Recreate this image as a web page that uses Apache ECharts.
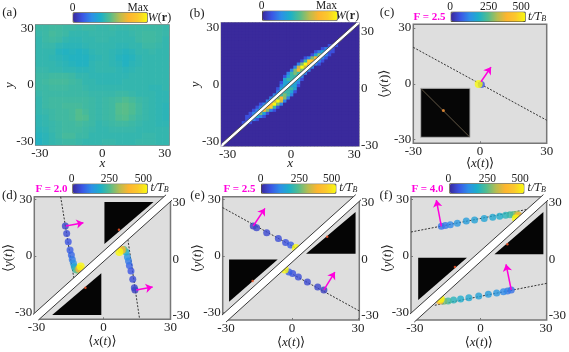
<!DOCTYPE html>
<html><head><meta charset="utf-8">
<style>html,body{margin:0;padding:0;background:#fff}#c{width:569px;height:352px}</style>
<script src="https://cdn.jsdelivr.net/npm/echarts@6/dist/echarts.min.js"></script>
</head><body><div id="c"></div>
<script>
const parula=['#3a2a9c','#3b55e5','#2d8fe8','#1cb0c8','#55bd8c','#b8bd50','#fdb52f','#fbc92c','#f9f90f'];
const tickValues=[-30,0,30];
// (a) W(r), rows from top to bottom, percent of Max
const heatA=[
[47,47,48,48,47,47,46,47,47,46,46,47,46,46,47,47,47,47,47,46],
[46,47,49,48,47,45,45,45,46,46,46,46,45,45,46,47,48,48,47,46],
[45,47,48,47,45,44,44,45,45,46,46,45,45,45,45,47,48,48,47,45],
[45,46,46,44,43,43,43,44,45,45,45,45,44,44,45,45,47,47,46,45],
[45,45,45,42,41,42,41,42,44,45,45,44,43,42,43,45,45,46,45,45],
[45,45,44,43,42,41,41,41,43,44,45,44,42,41,42,44,45,45,45,45],
[45,45,45,44,43,42,41,41,44,45,45,44,43,41,43,44,45,45,45,45],
[46,46,45,45,44,44,43,43,44,45,45,45,44,43,44,45,45,45,45,45],
[47,47,48,48,48,47,45,45,44,44,44,44,44,44,45,45,45,45,45,45],
[47,48,49,49,49,48,47,45,45,44,44,44,44,45,45,45,45,45,45,45],
[47,47,48,48,48,47,47,46,45,45,45,45,45,45,45,45,45,44,44,45],
[46,47,47,47,47,47,47,47,46,46,46,46,47,47,46,45,45,45,44,44],
[45,47,48,48,48,48,48,48,47,46,47,48,49,51,49,47,46,45,44,44],
[45,47,48,48,49,49,49,48,47,46,47,48,52,53,51,48,46,45,44,43],
[45,46,47,48,48,49,52,49,47,46,47,48,52,53,51,48,46,45,44,43],
[44,45,47,48,48,49,52,51,47,46,47,48,51,52,49,47,46,45,44,43],
[44,45,46,47,48,48,49,48,47,45,46,47,48,48,47,46,45,45,44,44],
[43,44,46,47,48,48,48,47,46,45,45,46,46,46,46,45,45,45,45,45],
[42,43,45,47,49,49,47,47,45,45,45,45,45,45,45,45,46,46,45,45],
[41,43,45,46,47,47,46,45,45,45,46,46,45,45,45,46,46,46,45,45]];
// (b) W(r) on a 40x40 grid: [row from top, first column, values 0-9]; other cells are 0
const heatBCells=[
[7,31,[1,1,1]],[8,29,[1,2,2,1]],[9,27,[1,2,3,2,1,1]],[10,26,[1,3,5,3,2,1]],
[11,24,[1,2,5,7,4,2,1]],[12,23,[1,4,8,7,4,2,1]],[13,22,[2,5,9,7,4,2,1]],[14,21,[2,6,9,6,3,2]],
[15,20,[2,5,7,5,3,2]],[16,19,[2,4,5,4,3,2]],[17,18,[1,3,4,4,3,2]],[18,18,[3,4,4,3,3,1]],
[19,17,[1,3,3,3,3,2]],[20,17,[2,3,3,3,3,1]],[21,16,[1,3,3,4,4,3]],[22,16,[2,3,4,4,3,1]],
[23,15,[2,3,4,5,4,2]],[24,14,[2,3,5,7,5,2]],[25,13,[2,3,6,9,6,2]],[26,11,[1,2,4,7,9,5,2]],
[27,10,[1,2,4,7,8,4,1]],[28,9,[1,2,4,7,5,2,1]],[29,8,[1,2,3,5,3,1]],[30,7,[1,1,2,3,2,1]],
[31,7,[1,2,2,1]],[32,6,[1,1,1]]];
// trajectories [x,y,t]
const trackC=[[.6,-.4,60],[-0.6,-0.1,500]];
const trackD1=[[-17.1,15.9,40],[-16.5,12,50],[-15.8,7.6,60],[-15,3.2,70],[-14.4,.5,80],[-14,-1.8,100],[-13.5,-3.9,130],[-13.1,-5.7,170],[-12.5,-7.1,210],[-11.7,-7.6,270],[-10.8,-6.7,380],[-10.2,-5.5,500]];
const trackD2=[[14.1,-18.1,30],[13.8,-16.8,40],[13.1,-12.4,50],[12.3,-8,60],[11.6,-5,75],[11.2,-2.7,100],[10.7,-.5,130],[10.1,2.1,180],[9.2,3.5,260],[8.2,3.2,380],[7.1,2.1,500]];
const trackE1=[[-17.6,15.9,30],[-16.1,15,40],[-11.5,12.3,45],[-6.2,9.2,50],[-2.9,7.1,55],[-.6,5.8,70],[1.8,4.2,500]];
const trackE2=[[14.5,-18,30],[11.7,-16.4,40],[7,-13.8,45],[2.9,-11.1,50],[.3,-9.3,55],[-1.4,-8.5,70],[-3.3,-7.2,500]];
const trackF1=[[-17.9,15.7,90],[-16.1,16.1,100],[-13.8,16.6,120],[-10.6,17.3,140],[-6.5,18.5,150],[-2.7,19,160],[1.7,19.9,165],[5.6,20.5,170],[8.8,21,180],[11.5,21.6,200],[13.5,21.9,220],[15.2,22,250],[16.8,21.9,300],[17.4,21.2,380],[16.2,19.8,500]];
const trackF2=[[14.1,-18,90],[12.4,-18.5,100],[10.5,-18.9,120],[7.4,-19.6,140],[3.6,-20.3,150],[-.8,-21.2,160],[-5.3,-22.1,170],[-9.1,-22.8,180],[-12.3,-23.3,200],[-14.8,-23.8,230],[-16.8,-24,270],[-18.6,-23.6,380],[-18.2,-22.6,500]];
// dotted guide lines, magenta arrows, black triangles, orange dots, white band, edges
const guidesC=[[[-30,19.6],[30,-19.6]]];
const guidesD=[[[-19.2,31.5],[-13.2,-12.4]],[[10.9,8.8],[16.1,-33]]];
const guidesE=[[[-31.5,25.6],[1.8,4.2]],[[30.6,-29.1],[-4.7,-6.5]]];
const guidesF=[[[-31.8,12.7],[21.5,24.7]],[[30.3,-14.5],[-20.9,-26.1]]];
const arrowsC=[[[.45,1.1],[4.95,9]]];
const arrowsD=[[[-16.9,15.9],[-9,17.7]],[[14.6,-18],[22,-16.5]]];
const arrowsE=[[[-17.6,15.9],[-12.3,25.2]],[[14.5,-18],[19.5,-8.5]]];
const arrowsF=[[[-17.9,15.7],[-20.2,29.6]],[[14.1,-18],[11.7,-4.4]]];
const trianglesD=[[[.4,28.7],[22.4,28.7],[.4,6.4]],[[-23,-31.3],[-1,-31.3],[-1,-9.2]]];
const trianglesE=[[[28.9,23.3],[28.9,1.2],[6.4,1.2]],[[-28.6,-1.8],[-6.5,-1.8],[-28.6,-24.3]]];
const trianglesF=[[[28.8,23.3],[28.8,.9],[6.4,.9]],[[-28.5,-.9],[-6.2,-.9],[-28.5,-23.3]]];
const dotsD=[[6.9,14],[-8.1,-16.8]];
const dotsE=[[16,10.2],[-17.9,-13.2]];
const dotsF=[[12.3,6.2],[-11.7,-5.8]];
const bandB=[[-32.6,-31],[31,32.6],[32.6,33],[32.3,31.7],[-32,-32.6],[-33.3,-33]];
const bandD=[[-32,-31.5],[28,32.5],[31,32.5],[31,30],[-29.2,-34],[-32,-34]];
const bandE=[[-32.5,-32],[29,32.5],[31.6,32.5],[31.6,30],[-30,-35],[-32.5,-35]];
const bandF=[[-33,-31.5],[28.8,32.5],[31.3,32.5],[31.3,30],[-30.3,-35],[-33,-35]];
const insetC={line:[[-29,29],[29,-29]],dot:[[-2.4,2.7]]};

const axisCol='#777',txt='#222',serif='"Liberation Serif","DejaVu Serif",serif',magenta='#ff00dd';
const grids=[],xAxes=[],yAxes=[],series=[],visualMaps=[],graphics=[];
const mathRich={i:{fontStyle:'italic',fontFamily:serif,fontSize:13,color:txt},n:{fontFamily:serif,fontSize:13,color:txt}};

function panel(p){
 const g=grids.length;
 grids.push({left:p.l,top:p.t,width:p.w,height:p.h,show:true,containLabel:false,backgroundColor:p.bg||'#dedede',borderColor:p.frame||axisCol,borderWidth:1.5});
 const xi=xAxes.length,yi=yAxes.length;
 const ax=(o)=>Object.assign({type:'value',gridIndex:g,splitLine:{show:false},
  axisLine:{show:false,onZero:false},
  axisTick:{show:true,inside:true,length:2,lineStyle:{color:axisCol},customValues:tickValues},
  axisLabel:{customValues:tickValues,fontFamily:serif,fontSize:13,color:txt,margin:2},
  nameLocation:'middle',nameMoveOverlap:false,nameTextStyle:{fontFamily:serif,fontSize:13,color:txt,rich:mathRich}},o);
 xAxes.push(ax({position:'bottom',min:p.xr[0],max:p.xr[1],name:p.xn,nameGap:p.xg}));
 yAxes.push(ax({position:'left',min:p.yr[0],max:p.yr[1],name:p.yn,nameGap:p.yg,nameRotate:90}));
 if(p.rightShift!==undefined){
  yAxes.push(ax({position:'right',min:p.yr[0]+p.rightShift,max:p.yr[1]+p.rightShift,axisTick:{show:false},name:''}));
 }
 return {g,xi,yi};
}
function heat(ids,cols,rows,values,vmax,bar){
 const cx=xAxes.length,cy=yAxes.length;
 xAxes.push({type:'category',gridIndex:ids.g,show:false,data:Array.from({length:cols},(_,i)=>i)});
 yAxes.push({type:'category',gridIndex:ids.g,show:false,data:Array.from({length:rows},(_,i)=>i)});
 series.push({type:'heatmap',xAxisIndex:cx,yAxisIndex:cy,data:values,animation:false,itemStyle:{borderWidth:0},emphasis:{disabled:true},progressive:0});
 colorbar(series.length-1,vmax,bar,undefined);
}
function colorbar(idx,vmax,bar,dim){
 const vm={type:'continuous',seriesIndex:idx,min:0,max:vmax,orient:'horizontal',left:bar[0],top:bar[1],itemWidth:bar[3],itemHeight:bar[2],
  padding:0,borderColor:'#55503a',borderWidth:1,text:null,calculable:false,hoverLink:false,inRange:{color:parula},outOfRange:{color:parula}};
 if(dim!==undefined)vm.dimension=dim;
 visualMaps.push(vm);
}
function polygon(ids,pts,fill,z){
 series.push({type:'custom',xAxisIndex:ids.xi,yAxisIndex:ids.yi,data:pts,z:z,silent:true,animation:false,clip:false,
  encode:{x:0,y:1},
  renderItem:(params,api)=>params.dataIndex!==0?null:({type:'polygon',shape:{points:pts.map(q=>api.coord(q))},style:{fill:fill,stroke:null}})});
}
function edge(ids,a,b,col,z,w){
 series.push({type:'line',xAxisIndex:ids.xi,yAxisIndex:ids.yi,data:[a,b],symbol:'none',silent:true,animation:false,z:z,clip:false,lineStyle:{color:col,width:w||1}});
}
function trajectory(ids,guides,arrows,tracks,bar){
 guides.forEach(gl=>series.push({type:'line',xAxisIndex:ids.xi,yAxisIndex:ids.yi,data:gl,symbol:'none',silent:true,animation:false,z:3,lineStyle:{color:'#333',width:1,type:[2,1.5]}}));
 const first=series.length;
 tracks.forEach(t=>series.push({type:'scatter',xAxisIndex:ids.xi,yAxisIndex:ids.yi,data:t,symbol:'circle',symbolSize:(v)=>v[2]>=300?8:7,silent:true,animation:false,z:4,encode:{x:0,y:1}}));
 colorbar(tracks.map((_,i)=>first+i),500,bar,2);
 series.push({type:'lines',coordinateSystem:'cartesian2d',xAxisIndex:ids.xi,yAxisIndex:ids.yi,silent:true,animation:false,z:5,
  symbol:['none','arrow'],symbolSize:7,lineStyle:{color:magenta,width:1.5,opacity:1},
  data:arrows.map(a=>({coords:a}))});
}
function bandAndInsets(ids,band,triangles,dots,edgeW){
 triangles.forEach(t=>polygon(ids,t,'#050505',2));
 series.push({type:'scatter',xAxisIndex:ids.xi,yAxisIndex:ids.yi,data:dots,symbol:'circle',symbolSize:2.5,silent:true,animation:false,z:2.5,itemStyle:{color:'#ff5a2a'}});
 polygon(ids,band,'#ffffff',6);
 edge(ids,band[0],band[1],'#3a3a3a',7,edgeW);
 edge(ids,band[3],band[4],'#3a3a3a',7,edgeW);
}
function text(x,y,s,o){
 graphics.push({type:'text',x:x,y:y,z:50,silent:true,style:Object.assign({text:s,fill:txt,font:'12px '+serif,align:'center',verticalAlign:'middle'},o||{})});
}
const small={font:'11.5px '+serif};
const wRich={rich:{i:{fontStyle:'italic',fontFamily:serif,fontSize:12,fill:txt,fontWeight:'normal'},n:{fontFamily:serif,fontSize:12,fill:txt},b:{fontFamily:serif,fontSize:12,fill:txt,fontWeight:'bold'}}};
const tRich={rich:{i:{fontStyle:'italic',fontFamily:serif,fontSize:12,fill:txt},s:{fontStyle:'italic',fontFamily:serif,fontSize:8,fill:txt,verticalAlign:'bottom',padding:[4,0,0,0]}}};
const labelFont={font:'13px '+serif};

const AVX='{n|⟨}{i|x}{n|(}{i|t}{n|)⟩}',AVY='{n|⟨}{i|y}{n|(}{i|t}{n|)⟩}';

// (a)
let ids=panel({l:35.7,t:25,w:133.3,h:120,xr:[-32,32],yr:[-32,32],xn:'x',yn:'y',xg:12,yg:20,frame:'#6e6e6e'});
xAxes[ids.xi].nameTextStyle.fontStyle='italic';yAxes[ids.yi].nameTextStyle.fontStyle='italic';
{const v=[];heatA.forEach((r,ri)=>r.forEach((c,ci)=>v.push([ci,heatA.length-1-ri,c])));
 heat(ids,20,20,v,105,[72.7,12.3,74,9.4]);}
text(9.5,12.7,'(a)',labelFont);text(72.5,7.5,'0',small);text(138,7.5,'Max',small);
text(159.5,17.5,'{i|W}{n|(}{b|r}{n|)}',wRich);

// (b)
ids=panel({l:221.3,t:22.7,w:137.7,h:123.3,xr:[-33,32.3],yr:[-32.6,32.6],xn:'x',yn:'y',xg:11,yg:19,rightShift:2.2,bg:'#3a2a9c',frame:'#a0a0a0'});
xAxes[ids.xi].nameTextStyle.fontStyle='italic';yAxes[ids.yi].nameTextStyle.fontStyle='italic';
{const m=[];for(let r=0;r<40;r++){m.push(new Array(40).fill(0));}
 heatBCells.forEach(([r,c0,vals])=>vals.forEach((val,k)=>{m[r][c0+k]=val;}));
 const v=[];m.forEach((row,r)=>row.forEach((c,col)=>v.push([col,39-r,c])));
 heat(ids,40,40,v,9,[262,10.7,74.7,9]);}
bandAndInsets(ids,bandB,[],[],.8);
text(197,14,'(b)',labelFont);text(261.5,5.5,'0',small);text(326.5,6,'Max',small);
text(347.5,15.5,'{i|W}{n|(}{b|r}{n|)}',wRich);

// (c)
ids=panel({l:413.3,t:24.3,w:133.4,h:119,xr:[-30,30],yr:[-32,32],xn:AVX,yn:AVY,xg:14,yg:22});
trajectory(ids,guidesC,arrowsC,[trackC],[450.7,11.7,74,9.3]);
{const g=grids.length;
 grids.push({left:420.7,top:88.3,width:49.3,height:49,show:true,backgroundColor:'#060606',borderColor:'#b5b5b5',borderWidth:1,z:8});
 const xi=xAxes.length,yi=yAxes.length;
 xAxes.push({type:'value',gridIndex:g,min:-30,max:30,show:false,splitLine:{show:false}});
 yAxes.push({type:'value',gridIndex:g,min:-30,max:30,show:false,splitLine:{show:false}});
 series.push({type:'line',xAxisIndex:xi,yAxisIndex:yi,data:insetC.line,symbol:'none',silent:true,animation:false,z:9,lineStyle:{color:'#7a6c56',width:.8}});
 series.push({type:'scatter',xAxisIndex:xi,yAxisIndex:yi,data:insetC.dot,symbolSize:3,silent:true,animation:false,z:9,itemStyle:{color:'#ff9a3a'}});
}
text(387,12.5,'(c)',labelFont);
text(429.5,17.5,'F = 2.5',{font:'bold 11px '+serif,fill:magenta});
text(450,6.5,'0',small);text(488.5,6.5,'250',small);text(521,6.5,'500',small);
text(537,17,'{i|t/T}{s|B}',tRich);

// (d)
ids=panel({l:34.3,t:196.7,w:136.2,h:122.6,xr:[-31,30],yr:[-33.6,31.5],xn:AVX,yn:AVY,xg:16,yg:19,rightShift:1.8});
bandAndInsets(ids,bandD,trianglesD,dotsD);
trajectory(ids,guidesD,arrowsD,[trackD1,trackD2],[72.3,183.7,74.4,9]);
text(9.5,195.5,'(d)',labelFont);
text(51.5,189.5,'F = 2.0',{font:'bold 11px '+serif,fill:magenta});
text(71.7,178.5,'0',small);text(109.3,178.5,'250',small);text(143.3,178.5,'500',small);
text(159.5,187.5,'{i|t/T}{s|B}',tRich);

// (e)
ids=panel({l:222.7,t:196.7,w:136.6,h:123.3,xr:[-31.5,30.6],yr:[-33.9,31.4],xn:AVX,yn:AVY,xg:16,yg:19,rightShift:1.8});
bandAndInsets(ids,bandE,trianglesE,dotsE);
trajectory(ids,guidesE,arrowsE,[trackE1,trackE2],[261,183.7,74.3,9]);
text(197.5,196,'(e)',labelFont);
text(239.5,189.5,'F = 2.5',{font:'bold 11px '+serif,fill:magenta});
text(260.7,178.5,'0',small);text(299.3,178.5,'250',small);text(331.7,178.5,'500',small);
text(348.3,187.5,'{i|t/T}{s|B}',tRich);

// (f)
ids=panel({l:411,t:196.7,w:136.7,h:123.3,xr:[-31.8,30.3],yr:[-33.9,31.4],xn:AVX,yn:AVY,xg:16,yg:17,rightShift:1.8});
bandAndInsets(ids,bandF,trianglesF,dotsF);
trajectory(ids,guidesF,arrowsF,[trackF1,trackF2],[449.3,183.3,74,9.4]);
text(386,196,'(f)',labelFont);
text(427.5,189.5,'F = 4.0',{font:'bold 11px '+serif,fill:magenta});
text(448.3,178.5,'0',small);text(487.3,178.5,'250',small);text(520,178.5,'500',small);
text(536.7,187.5,'{i|t/T}{s|B}',tRich);

const chart=echarts.init(document.getElementById('c'),null,{renderer:'canvas',width:569,height:352});
chart.setOption({animation:false,backgroundColor:'#fff',grid:grids,xAxis:xAxes,yAxis:yAxes,visualMap:visualMaps,series:series,graphic:{elements:graphics},tooltip:{show:false}});
</script></body></html>
